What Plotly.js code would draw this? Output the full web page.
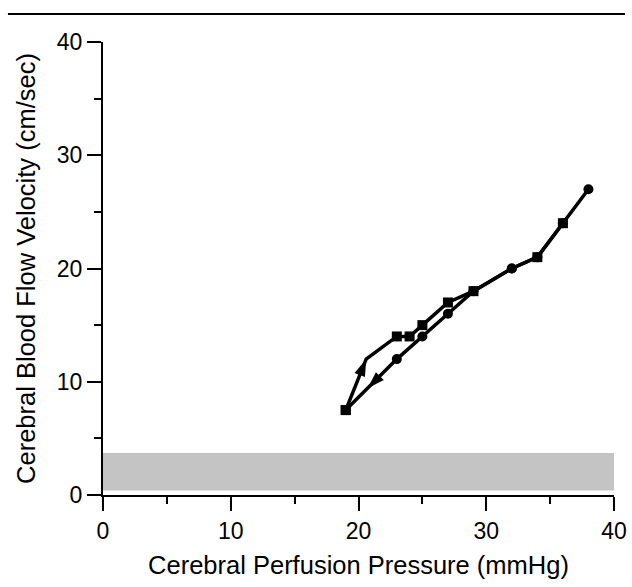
<!DOCTYPE html>
<html>
<head>
<meta charset="utf-8">
<script src="https://cdn.plot.ly/plotly-3.0.1.min.js"></script>
<style>html,body{margin:0;padding:0;background:#fff;}#chart{width:632px;height:587px;}</style>
</head>
<body>
<div id="chart"></div>
<script>
// Descending limb (circles): perfusion pressure falling
var downX = [38, 36, 34, 32, 29, 27, 25, 23, 19];
var downY = [27, 24, 21, 20, 18, 16, 14, 12, 7.5];
var downSymbols = ['circle', 'circle', 'circle', 'circle', 'circle', 'circle', 'circle', 'circle', 'square'];
// Ascending limb (squares): perfusion pressure rising (index 1 = arrowhead vertex)
var upX = [19, 20.6, 23, 24, 25, 27, 29, 32, 34, 36];
var upY = [7.5, 12, 14, 14, 15, 17, 18, 20, 21, 24];
var upSymbols = ['square', 'none', 'square', 'square', 'square', 'square', 'square', 'circle', 'square', 'square'];
// Shaded normal band
var bandX = [0, 40];
var bandLow = 0.4;
var bandHigh = 3.7;
// Axis ticks
var tickVals = [0, 10, 20, 30, 40];
var tickText = ['0', '10', '20', '30', '40'];

// pixel scale used only to orient the arrowheads along the line segments
var PX_X = 12.775, PX_Y = 11.31;
function segAngle(x0, y0, x1, y1) {
  var dx = (x1 - x0) * PX_X;
  var dy = (y1 - y0) * PX_Y;
  return Math.atan2(dx, dy) * 180 / Math.PI;
}
var n = downX.length;
var frac = 0.57;
var arrowX = [upX[1], downX[n - 2] + (downX[n - 1] - downX[n - 2]) * frac];
var arrowY = [upY[1], downY[n - 2] + (downY[n - 1] - downY[n - 2]) * frac];
var arrowAng = [
  segAngle(upX[0], upY[0], upX[1], upY[1]),
  segAngle(downX[n - 2], downY[n - 2], downX[n - 1], downY[n - 1])
];

function pick(arr, syms) {
  return arr.filter(function (v, i) { return syms[i] !== 'none'; });
}

var mk = function (syms) {
  return {symbol: pick(syms, syms), size: 10, color: '#000', opacity: 1, line: {width: 0}};
};

var traces = [
  {
    x: [bandX[0], bandX[1], bandX[1], bandX[0]],
    y: [bandLow, bandLow, bandHigh, bandHigh],
    type: 'scatter', mode: 'lines', fill: 'toself',
    line: {width: 0, color: 'rgba(0,0,0,0)'},
    fillcolor: '#c4c4c4',
    hoverinfo: 'skip', showlegend: false
  },
  {x: downX, y: downY, type: 'scatter', mode: 'lines', line: {color: '#000', width: 3.5}, showlegend: false},
  {x: upX, y: upY, type: 'scatter', mode: 'lines', line: {color: '#000', width: 3.5}, showlegend: false},
  {x: downX, y: downY, type: 'scatter', mode: 'markers', marker: mk(downSymbols), showlegend: false},
  {x: pick(upX, upSymbols), y: pick(upY, upSymbols), type: 'scatter', mode: 'markers', marker: mk(upSymbols), showlegend: false},
  {
    x: arrowX, y: arrowY, type: 'scatter', mode: 'markers',
    marker: {symbol: 'arrow', size: 18, color: '#000', angle: arrowAng, line: {width: 0}},
    showlegend: false
  }
];

var tickFont = {family: 'Liberation Sans, Arial, sans-serif', size: 23, color: '#000'};
var titleFont = {family: 'Liberation Sans, Arial, sans-serif', size: 25.5, color: '#000'};

var layout = {
  width: 632, height: 587,
  margin: {l: 103, r: 18, t: 42, b: 92},
  paper_bgcolor: '#fff', plot_bgcolor: '#fff',
  font: tickFont,
  xaxis: {
    range: [0, 40], tickvals: tickVals, ticktext: tickText,
    showline: true, linecolor: '#000', linewidth: 2, mirror: false,
    ticks: 'outside', ticklen: 14, tickwidth: 2, tickcolor: '#000',
    minor: {dtick: 5, ticks: 'outside', ticklen: 7, tickwidth: 2, tickcolor: '#000', showgrid: false},
    showgrid: false, zeroline: false,
    tickfont: tickFont,
    title: {text: 'Cerebral Perfusion Pressure (mmHg)', font: titleFont, standoff: 14}
  },
  yaxis: {
    range: [0, 40], tickvals: tickVals, ticktext: tickText,
    showline: true, linecolor: '#000', linewidth: 2, mirror: false,
    ticks: 'outside', ticklen: 14, tickwidth: 2, tickcolor: '#000',
    minor: {dtick: 5, ticks: 'outside', ticklen: 7, tickwidth: 2, tickcolor: '#000', showgrid: false},
    showgrid: false, zeroline: false,
    tickfont: tickFont,
    title: {text: 'Cerebral Blood Flow Velocity (cm/sec)', font: titleFont, standoff: 14}
  },
  shapes: [{
    type: 'line', xref: 'paper', yref: 'paper',
    x0: -0.186, x1: 1.0215, y0: 1.062, y1: 1.062,
    line: {color: '#000', width: 2}
  }]
};

Plotly.newPlot('chart', traces, layout, {displayModeBar: false, staticPlot: true});
</script>
</body>
</html>
